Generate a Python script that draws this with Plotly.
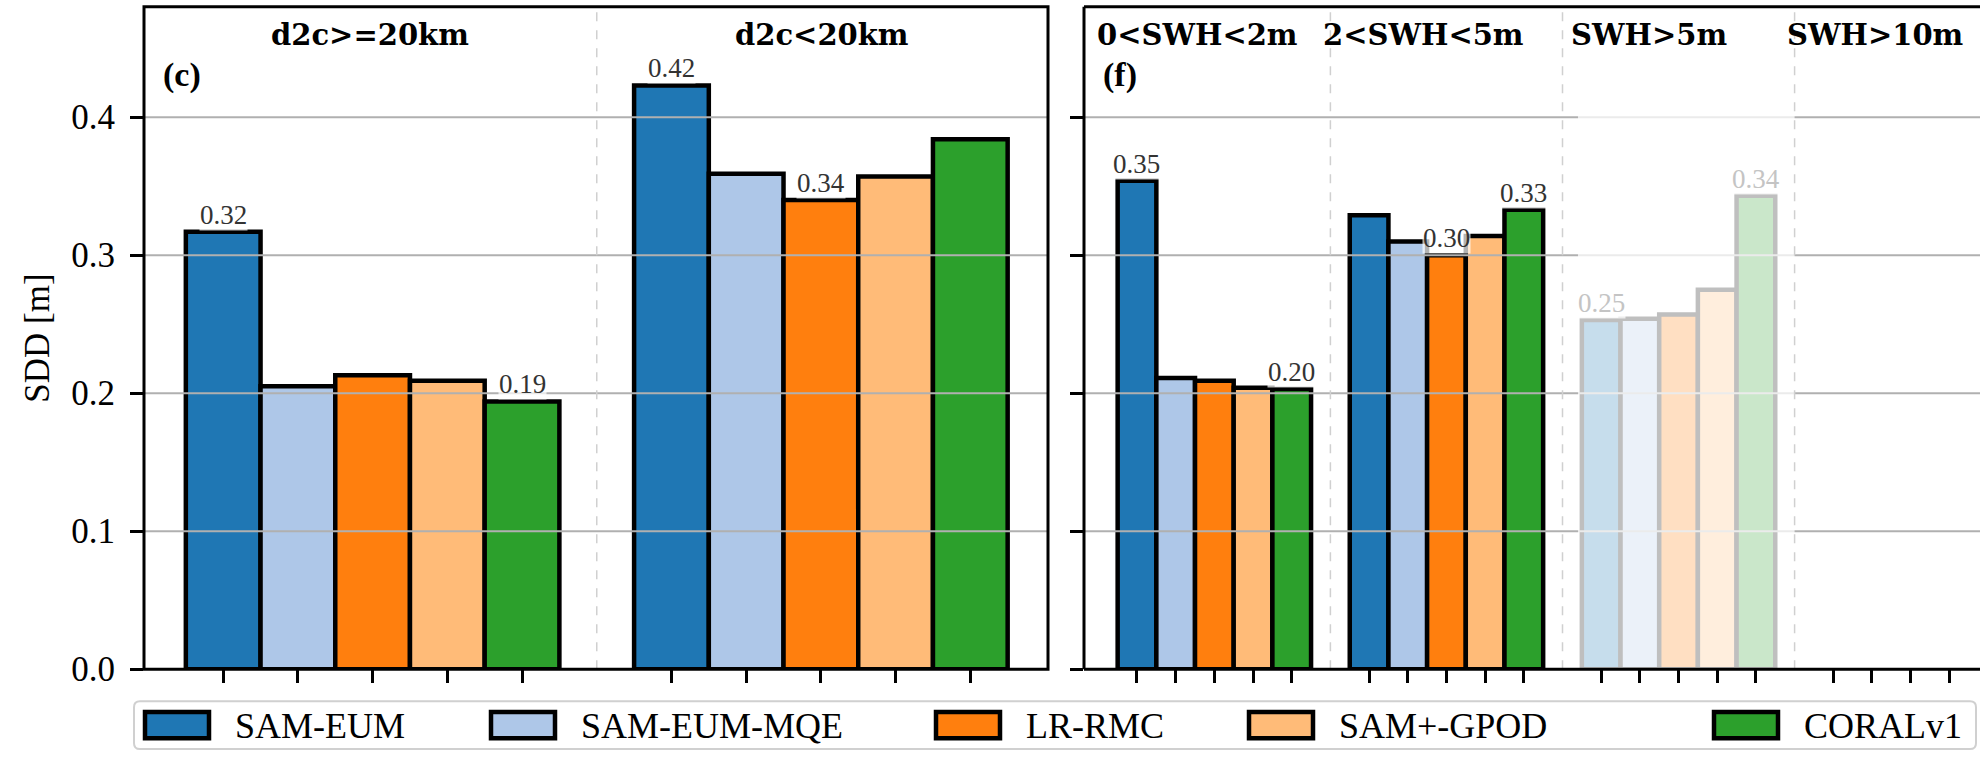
import plotly.graph_objects as go

W, H = 1980, 771

# ---- data -------------------------------------------------------------
series = ["SAM-EUM", "SAM-EUM-MQE", "LR-RMC", "SAM+-GPOD", "CORALv1"]
colors = ["#1f77b4", "#aec7e8", "#ff7f0e", "#ffbb78", "#2ca02c"]

# panel (c): distance to coast classes
dist_labels = ["d2c&gt;=20km", "d2c&lt;20km"]
sdd_d2c_far = [0.317, 0.205, 0.213, 0.209, 0.194]
sdd_d2c_near = [0.423, 0.359, 0.340, 0.357, 0.384]

# panel (f): significant wave height classes
swh_labels = ["0&lt;SWH&lt;2m", "2&lt;SWH&lt;5m", "SWH&gt;5m", "SWH&gt;10m"]
sdd_swh_0_2 = [0.354, 0.211, 0.209, 0.204, 0.203]
sdd_swh_2_5 = [0.329, 0.310, 0.300, 0.314, 0.333]
sdd_swh_gt5 = [0.253, 0.254, 0.257, 0.275, 0.343]
sdd_swh_gt10 = []          # no collocations in this class
faded_groups = [2]         # low-sample class, drawn greyed out

y_ticks = [0.0, 0.1, 0.2, 0.3, 0.4]

# ---- layout constants -------------------------------------------------
FONT = "Liberation Serif"
HEAD_FONT = "DejaVu Serif"
GROUP_STRIDE = 6
N = len(series)
PANEL_W = 904
LEFT_X0, RIGHT_X0 = 144, 1084
Y_TOP, Y_BOT = 7, 687
Y_MAX = 0.48
LEFT_RANGE = [-1.06, 11.04]
RIGHT_RANGE = [-1.37, 22.0]


def px(x):
    return x / W


def py(y):
    return 1 - y / H


left_groups = [sdd_d2c_far, sdd_d2c_near]
right_groups = [sdd_swh_0_2, sdd_swh_2_5, sdd_swh_gt5, sdd_swh_gt10]

fig = go.Figure()


def add_panel_bars(groups, xaxis, yaxis):
    for k, name in enumerate(series):
        xs, ys = [], []
        for g, vals in enumerate(groups):
            if len(vals) == N:
                xs.append(g * GROUP_STRIDE + k)
                ys.append(vals[k])
        fig.add_trace(go.Bar(
            x=xs, y=ys, width=1.0, name=name, showlegend=False,
            marker=dict(color=colors[k], line=dict(color="black", width=4.5)),
            xaxis=xaxis, yaxis=yaxis, hoverinfo="skip",
        ))


add_panel_bars(left_groups, "x", "y")
add_panel_bars(right_groups, "x2", "y2")

shapes = []
annotations = []

# grid lines over the bars
for xr, yr in (("x domain", "y"), ("x2 domain", "y2")):
    for t in y_ticks[1:]:
        shapes.append(dict(type="line", xref=xr, yref=yr, x0=0, x1=1, y0=t, y1=t,
                           line=dict(color="#b0b0b0", width=2), layer="above"))

# greyed-out class
for g in faded_groups:
    shapes.append(dict(type="rect", xref="x2", yref="y2",
                       x0=g * GROUP_STRIDE - 0.6, x1=g * GROUP_STRIDE + N,
                       y0=0, y1=Y_MAX, fillcolor="rgba(255,255,255,0.75)",
                       line=dict(width=0), layer="above"))

# dashed separators between classes
for g in range(1, len(left_groups)):
    xv = g * GROUP_STRIDE - 1
    shapes.append(dict(type="line", xref="x", yref="y domain", x0=xv, x1=xv, y0=0, y1=1,
                       line=dict(color="#d0d0d0", width=1.5, dash="dash"), layer="above"))
for g in range(1, len(right_groups)):
    xv = g * GROUP_STRIDE - 1
    shapes.append(dict(type="line", xref="x2", yref="y2 domain", x0=xv, x1=xv, y0=0, y1=1,
                       line=dict(color="#d0d0d0", width=1.5, dash="dash"), layer="above"))

# frames
shapes.append(dict(type="rect", xref="x domain", yref="y domain", x0=0, x1=1, y0=0, y1=1,
                   line=dict(color="black", width=3), layer="above"))
for (x0, y0, x1, y1) in ((0, 0, 1, 0), (0, 1, 1, 1), (0, 0, 0, 1)):
    shapes.append(dict(type="line", xref="x2 domain", yref="y2 domain",
                       x0=x0, y0=y0, x1=x1, y1=y1,
                       line=dict(color="black", width=3), layer="above"))


# value labels on the min and max bar of each class
def add_value_labels(groups, xref, yref):
    for g, vals in enumerate(groups):
        if len(vals) != N:
            continue
        faded = xref == "x2" and g in faded_groups
        for k in sorted({vals.index(max(vals)), vals.index(min(vals))}):
            annotations.append(dict(
                x=g * GROUP_STRIDE + k, y=vals[k], xref=xref, yref=yref,
                text=f"{vals[k]:.2f}", showarrow=False, xanchor="center",
                yanchor="bottom", yshift=1,
                font=dict(family=FONT, size=27, color="#c4c4c4" if faded else "#333333"),
                bgcolor="rgba(255,255,255,0.7)", borderpad=0,
            ))


add_value_labels(left_groups, "x", "y")
add_value_labels(right_groups, "x2", "y2")

# class headers and panel letters
header_font = dict(family=HEAD_FONT, size=29, color="black")
for i, lab in enumerate(dist_labels):
    annotations.append(dict(x=px(LEFT_X0 + (i + 0.5) * PANEL_W / len(dist_labels)), y=py(36),
                            xref="paper", yref="paper", text=f"<b>{lab}</b>", showarrow=False,
                            xanchor="center", yanchor="middle", font=header_font))
for i, lab in enumerate(swh_labels):
    annotations.append(dict(x=px(RIGHT_X0 + (i + 0.5) * PANEL_W / len(swh_labels)), y=py(36),
                            xref="paper", yref="paper", text=f"<b>{lab}</b>", showarrow=False,
                            xanchor="center", yanchor="middle", font=header_font))
for x0, letter in ((LEFT_X0, "(c)"), (RIGHT_X0, "(f)")):
    annotations.append(dict(x=px(x0 + 17), y=py(77), xref="paper", yref="paper",
                            text=f"<b>{letter}</b>", showarrow=False,
                            xanchor="left", yanchor="middle",
                            font=dict(family=FONT, size=34, color="black")))

# legend
leg_x0, leg_x1, leg_y0, leg_y1, r = 134, 1976, 720, 769, 6
path = (f"M {px(leg_x0 + r)},{py(leg_y0)} L {px(leg_x1 - r)},{py(leg_y0)} "
        f"Q {px(leg_x1)},{py(leg_y0)} {px(leg_x1)},{py(leg_y0 + r)} "
        f"L {px(leg_x1)},{py(leg_y1 - r)} Q {px(leg_x1)},{py(leg_y1)} {px(leg_x1 - r)},{py(leg_y1)} "
        f"L {px(leg_x0 + r)},{py(leg_y1)} Q {px(leg_x0)},{py(leg_y1)} {px(leg_x0)},{py(leg_y1 - r)} "
        f"L {px(leg_x0)},{py(leg_y0 + r)} Q {px(leg_x0)},{py(leg_y0)} {px(leg_x0 + r)},{py(leg_y0)} Z")
shapes.append(dict(type="path", xref="paper", yref="paper", path=path,
                   fillcolor="white", line=dict(color="#d0d0d0", width=2), layer="above"))
swatch_x = [145, 491, 936, 1249, 1714]
for k, name in enumerate(series):
    sx = swatch_x[k]
    shapes.append(dict(type="rect", xref="paper", yref="paper",
                       x0=px(sx), x1=px(sx + 64), y0=py(758), y1=py(731),
                       fillcolor=colors[k], line=dict(color="black", width=4.5), layer="above"))
    annotations.append(dict(x=px(sx + 88), y=py(745), xref="paper", yref="paper",
                            text=name, showarrow=False, xanchor="left", yanchor="middle",
                            font=dict(family=FONT, size=36, color="black")))

axis_common = dict(showgrid=False, zeroline=False, showline=False, ticks="outside",
                   ticklen=13, tickwidth=2.5, tickcolor="black")

left_ticks = [g * GROUP_STRIDE + k for g in range(len(left_groups)) for k in range(N)]
right_ticks = [g * GROUP_STRIDE + k for g in range(len(right_groups)) for k in range(N)]
right_visible = RIGHT_RANGE[1] - (RIGHT_X0 + PANEL_W - W) * (RIGHT_RANGE[1] - RIGHT_RANGE[0]) / PANEL_W

fig.update_layout(
    width=W, height=H, margin=dict(l=0, r=0, t=0, b=0),
    paper_bgcolor="white", plot_bgcolor="white", barmode="overlay",
    font=dict(family=FONT, color="black"),
    xaxis=dict(domain=[px(LEFT_X0), px(LEFT_X0 + PANEL_W)], range=LEFT_RANGE,
               tickvals=left_ticks, showticklabels=False, anchor="y", **axis_common),
    yaxis=dict(domain=[py(Y_BOT), py(Y_TOP)], range=[0, Y_MAX], tickvals=y_ticks,
               ticktext=[f"{t:.1f}" for t in y_ticks], anchor="x",
               tickfont=dict(family=FONT, size=35), ticklabelstandoff=8,
               title=dict(text="SDD [m]", font=dict(family=FONT, size=35), standoff=10),
               **axis_common),
    xaxis2=dict(domain=[px(RIGHT_X0), 1.0], range=[RIGHT_RANGE[0], right_visible],
                tickvals=right_ticks, showticklabels=False, anchor="y2", **axis_common),
    yaxis2=dict(domain=[py(Y_BOT), py(Y_TOP)], range=[0, Y_MAX], tickvals=y_ticks,
                showticklabels=False, anchor="x2", **axis_common),
    shapes=shapes, annotations=annotations,
)

fig.write_html("out.html")
